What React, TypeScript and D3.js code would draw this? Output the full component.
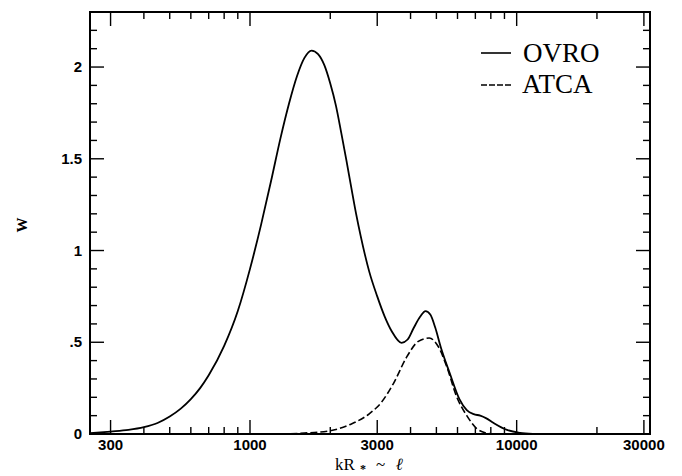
import React from "react";
import * as d3 from "d3";

const ovroK = [250, 300, 350, 400, 450, 500, 550, 600, 650, 700, 800, 900, 1000, 1100, 1200, 1300, 1400, 1500, 1600, 1700, 1800, 1900, 2000, 2100, 2200, 2300, 2400, 2500, 2600, 2700, 2800, 3000, 3200, 3400, 3700, 3900, 4100, 4350, 4550, 4750, 4950, 5200, 5600, 6100, 6500, 6900, 7300, 7700, 8200, 9200, 10300, 11500];
const ovroW = [0.004, 0.013, 0.022, 0.037, 0.06, 0.095, 0.138, 0.19, 0.25, 0.32, 0.48, 0.67, 0.9, 1.14, 1.38, 1.61, 1.8, 1.95, 2.05, 2.09, 2.07, 2.01, 1.91, 1.79, 1.64, 1.49, 1.34, 1.2, 1.08, 0.975, 0.885, 0.75, 0.64, 0.56, 0.497, 0.515, 0.575, 0.64, 0.67, 0.65, 0.58, 0.47, 0.335, 0.19, 0.13, 0.108, 0.1, 0.085, 0.06, 0.022, 0.006, 0.0];
const atcaK = [1300, 1600, 2000, 2400, 2800, 3100, 3450, 3870, 4280, 4700, 5080, 5460, 5950, 6500, 7080, 7700, 8200];
const atcaW = [0.0, 0.005, 0.018, 0.055, 0.11, 0.17, 0.275, 0.42, 0.505, 0.523, 0.477, 0.37, 0.205, 0.1, 0.03, 0.005, 0.0];

const xMajorTicks = [300, 1000, 3000, 10000, 30000];
const xMajorLabels = ["300", "1000", "3000", "10000", "30000"];
const yMajorTicks = [0, 0.5, 1, 1.5, 2];
const yMajorLabels = ["0", ".5", "1", "1.5", "2"];
const seriesNames = ["OVRO", "ATCA"];

const W = 682, H = 476;
const L = 90, R = 650, T = 12, B = 434;

export default function App() {
  const x = d3.scaleLog().domain([Math.pow(10, 2.4), Math.pow(10, 4.5)]).range([L, R]);
  const y = d3.scaleLinear().domain([0, 2.3]).range([B, T]);

  const xMinor: number[] = [];
  for (let e = 2; e <= 4; e++) {
    for (let m = 1; m <= 9; m++) {
      const v = m * Math.pow(10, e);
      if (v >= x.domain()[0] && v <= x.domain()[1] && !xMajorTicks.includes(v)) xMinor.push(v);
    }
  }
  const yMinor = d3.range(0, 24).map((i) => i / 10).filter((v) => Math.abs(v * 2 - Math.round(v * 2)) > 1e-6);

  const line = d3.line<[number, number]>().x((d) => x(d[0])).y((d) => y(d[1])).curve(d3.curveMonotoneX);
  const ovro = line(ovroK.map((k, i) => [k, ovroW[i]] as [number, number])) || "";
  const atca = line(atcaK.map((k, i) => [k, atcaW[i]] as [number, number])) || "";

  const majorLen = 14, minorLen = 7;
  const tickFont = { fontFamily: "Liberation Sans, Arial, sans-serif", fontWeight: 700, fontSize: 15 } as const;
  const serif = "Liberation Serif, Times New Roman, serif";

  return (
    <svg width={W} height={H} style={{ position: "absolute", left: 0, top: 0, background: "#fff" }}>
      <rect x={0} y={0} width={W} height={H} fill="#fff" />
      <defs>
        <clipPath id="plot">
          <rect x={L} y={T} width={R - L} height={B - T} />
        </clipPath>
      </defs>
      <g clipPath="url(#plot)" fill="none" stroke="#000">
        <path d={ovro} strokeWidth={1.8} />
        <path d={atca} strokeWidth={1.6} strokeDasharray="7,3" />
      </g>
      <rect x={L} y={T} width={R - L} height={B - T} fill="none" stroke="#000" strokeWidth={2} />
      <g stroke="#000" strokeWidth={1.4}>
        {xMajorTicks.map((v) => (
          <g key={"xM" + v}>
            <line x1={x(v)} x2={x(v)} y1={B} y2={B - majorLen} />
            <line x1={x(v)} x2={x(v)} y1={T} y2={T + majorLen} />
          </g>
        ))}
        {xMinor.map((v) => (
          <g key={"xm" + v}>
            <line x1={x(v)} x2={x(v)} y1={B} y2={B - minorLen} />
            <line x1={x(v)} x2={x(v)} y1={T} y2={T + minorLen} />
          </g>
        ))}
        {yMajorTicks.map((v) => (
          <g key={"yM" + v}>
            <line x1={L} x2={L + majorLen} y1={y(v)} y2={y(v)} />
            <line x1={R} x2={R - majorLen} y1={y(v)} y2={y(v)} />
          </g>
        ))}
        {yMinor.map((v) => (
          <g key={"ym" + v}>
            <line x1={L} x2={L + minorLen} y1={y(v)} y2={y(v)} />
            <line x1={R} x2={R - minorLen} y1={y(v)} y2={y(v)} />
          </g>
        ))}
      </g>
      {xMajorTicks.map((v, i) => (
        <text key={"xl" + v} x={x(v)} y={450} textAnchor="middle" {...tickFont}>
          {xMajorLabels[i]}
        </text>
      ))}
      {yMajorTicks.map((v, i) => (
        <text key={"yl" + v} x={82} y={y(v) + 5} textAnchor="end" {...tickFont}>
          {yMajorLabels[i]}
        </text>
      ))}
      <text y={470} fontFamily={serif} fontSize={17}>
        <tspan x={335}>kR</tspan>
        <tspan x={360} dy={3} fontSize={12} fontWeight={700}>*</tspan>
        <tspan x={376} dy={-3}>~</tspan>
        <tspan x={396} fontStyle="italic" fontWeight={700}>ℓ</tspan>
      </text>
      <text
        transform="translate(27,225) rotate(-90)"
        textAnchor="middle"
        fontFamily={serif}
        fontWeight={700}
        fontSize={15}
      >
        W
      </text>
      <line x1={481} x2={511} y1={53} y2={53} stroke="#000" strokeWidth={1.6} />
      <line x1={481} x2={511} y1={85} y2={85} stroke="#000" strokeWidth={1.6} strokeDasharray="6,2" />
      <text x={523} y={62} fontFamily={serif} fontSize={27}>
        {seriesNames[0]}
      </text>
      <text x={522} y={93} fontFamily={serif} fontSize={27}>
        {seriesNames[1]}
      </text>
    </svg>
  );
}
